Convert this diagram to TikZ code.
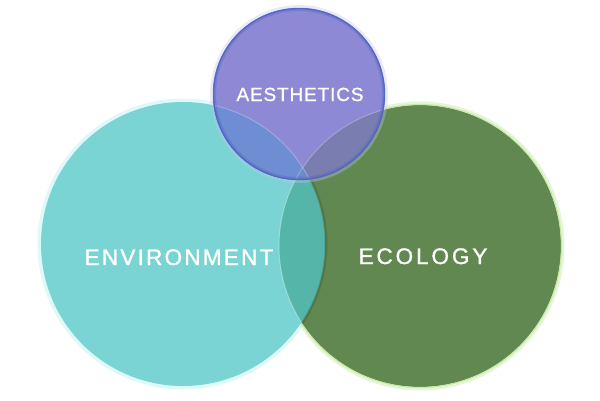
\documentclass[tikz,border=0pt]{standalone}
\usepackage{fontspec}
\setmainfont{Liberation Sans}
\definecolor{envfill}{HTML}{7AD4D4}
\definecolor{envglow}{HTML}{B8F0F0}
\definecolor{ecofill}{HTML}{618850}
\definecolor{ecoglow}{HTML}{C8E8A8}
\definecolor{aesfill}{HTML}{8D89D5}
\definecolor{aesrim}{HTML}{5064C4}
\definecolor{aesglow}{HTML}{C4C4F0}
\definecolor{enveco}{HTML}{55B5A8}
\definecolor{aesenv}{HTML}{6F8DD3}
\definecolor{aeseco}{HTML}{7A7DB0}
\definecolor{triple}{HTML}{6A8CC4}
\tikzset{
  lbl/.style={text=white, inner sep=0pt, anchor=base},
}
\begin{document}
\begin{tikzpicture}[x=1pt,y=-1pt]
\useasboundingbox (0,0) rectangle (600,400);
\coordinate (envc) at (183,244);
\coordinate (ecoc) at (420,246);
\coordinate (aesc) at (299,94);
% glows
\draw[ecoglow, line width=5, opacity=.45] (ecoc) circle[radius=142];
\draw[envglow, line width=5, opacity=.45] (envc) circle[radius=143];
% ecology
\fill[ecofill] (ecoc) circle[radius=141];
\draw[ecoglow, line width=1.2] (ecoc) circle[radius=141.5];
% environment
\fill[envfill] (envc) circle[radius=142];
% env & eco lens
\begin{scope}
  \clip (envc) circle[radius=142];
  \fill[enveco] (ecoc) circle[radius=141];
  \draw[white, opacity=.35, line width=1] (ecoc) circle[radius=141];
\end{scope}
\begin{scope}
  \clip (ecoc) circle[radius=141];
  \draw[black, opacity=.12, line width=3] (envc) circle[radius=143];
\end{scope}
% aesthetics
\draw[aesglow, line width=4, opacity=.35] (aesc) circle[radius=87];
\fill[aesfill] (aesc) circle[radius=86];
\begin{scope}
  \clip (aesc) circle[radius=86];
  \fill[aesenv] (envc) circle[radius=142];
  \fill[aeseco] (ecoc) circle[radius=141];
  \begin{scope}
    \clip (envc) circle[radius=142];
    \fill[triple] (ecoc) circle[radius=141];
  \end{scope}
  \draw[white, opacity=.25, line width=1] (envc) circle[radius=142];
  \draw[white, opacity=.25, line width=1] (ecoc) circle[radius=141];
  \draw[aesrim, line width=4, opacity=.35] (aesc) circle[radius=85];
\end{scope}
\draw[aesrim, line width=1.4, opacity=.85] (aesc) circle[radius=85.5];
% labels
\node[lbl, font=\fontsize{22.5}{22.5}\selectfont\addfontfeatures{LetterSpace=10,FakeBold=1.2}] (envlabel) at (179,265) {ENVIRONMENT};
\node[lbl, font=\fontsize{22.5}{22.5}\selectfont\addfontfeatures{LetterSpace=13,FakeBold=1.2}] (ecolabel) at (423,264) {ECOLOGY};
\node[lbl, font=\fontsize{19}{19}\selectfont\addfontfeatures{LetterSpace=4.5,FakeBold=1}] (aeslabel) at (300,101) {AESTHETICS};
\end{tikzpicture}
\end{document}
